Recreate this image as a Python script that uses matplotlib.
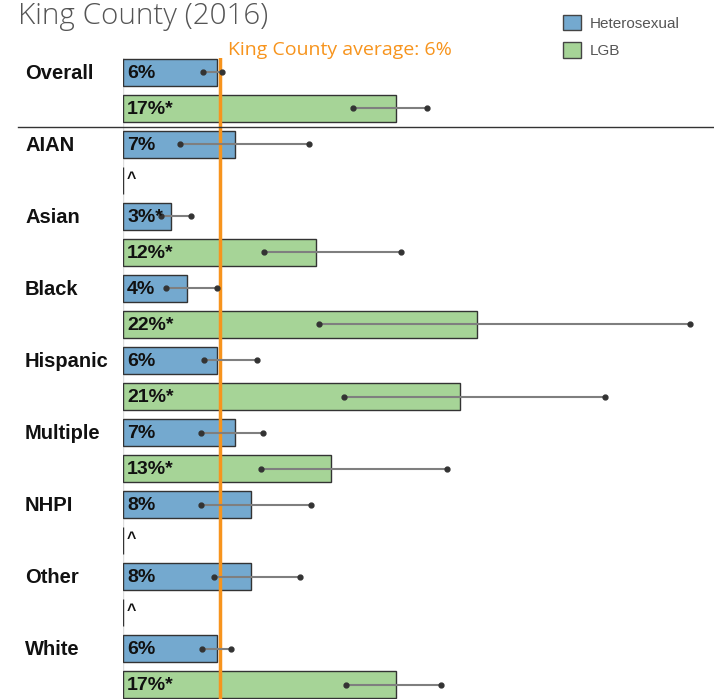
import numpy as np
import matplotlib
matplotlib.use("Agg")
import matplotlib.pyplot as plt
from matplotlib.patches import Patch
from matplotlib.lines import Line2D
from matplotlib.transforms import blended_transform_factory

# Data (percent)
groups = ["Overall", "AIAN", "Asian", "Black", "Hispanic", "Multiple", "NHPI", "Other", "White"]
het_val = [5.85, 6.95, 2.98, 3.98, 5.85, 6.95, 7.95, 7.95, 5.85]
het_lo = [4.97, 3.54, 2.36, 2.67, 5.03, 4.84, 4.84, 5.65, 4.9]
het_hi = [6.15, 11.55, 4.22, 5.84, 8.32, 8.7, 11.7, 11.0, 6.7]
het_lbl = ["6%", "7%", "3%*", "4%", "6%", "7%", "8%", "8%", "6%"]
lgb_val = [16.96, 0, 11.99, 22.0, 20.95, 12.9, 0, 0, 16.96]
lgb_lo = [14.3, None, 8.76, 12.2, 13.75, 8.6, None, None, 13.85]
lgb_hi = [18.9, None, 17.27, 35.2, 29.95, 20.1, None, None, 19.75]
lgb_lbl = ["17%*", "^", "12%*", "22%*", "21%*", "13%*", "^", "^", "17%*"]
county_avg = 6.0

W, H = 714, 699
fig = plt.figure(figsize=(W / 100, H / 100), dpi=100)
px = 16.1  # pixels per percentage point
ax = fig.add_axes([123 / W, 0, (W - 123) / W, (H - 58) / H])
ax.set_xlim(0, (W - 123) / px)
ax.set_ylim(17.4, -0.4)
ax.axis("off")
ax.axvline(0, color="#dddddd", lw=1, zorder=0)

blue = "#74a9cf"
green = "#a6d497"
err_kw = dict(color="#7f7f7f", lw=1.5, solid_capstyle="butt", zorder=4)
dot_kw = dict(ls="none", marker="o", ms=3.5, color="#333333", zorder=5)

lab_tr = blended_transform_factory(fig.transFigure, ax.transData)
for i, g in enumerate(groups):
    yh, yl = 2 * i, 2 * i + 1
    ax.barh(yh, het_val[i], height=0.74, color=blue, edgecolor="#333333", lw=1, zorder=2)
    ax.plot([het_lo[i], het_hi[i]], [yh, yh], **err_kw)
    ax.plot([het_lo[i], het_hi[i]], [yh, yh], **dot_kw)
    ax.text(0.25, yh + 0.03, het_lbl[i], va="center", ha="left", fontsize=14,
            fontweight="bold", family="Liberation Sans", color="#111111", zorder=6)

    ax.barh(yl, lgb_val[i], height=0.74, color=green, edgecolor="#333333", lw=1, zorder=2)
    if lgb_lo[i] is not None:
        ax.plot([lgb_lo[i], lgb_hi[i]], [yl, yl], **err_kw)
        ax.plot([lgb_lo[i], lgb_hi[i]], [yl, yl], **dot_kw)
    ax.text(0.25, yl + (-0.05 if lgb_lbl[i] == "^" else 0.03), lgb_lbl[i], va="center", ha="left",
            fontsize=14 if lgb_lbl[i] != "^" else 11.5, fontweight="bold",
            family="Liberation Sans", color="#111111", zorder=6)

    ax.text(25 / W, yh + 0.03, g, va="center", ha="left", fontsize=14.5, fontweight="bold",
            family="Liberation Sans", color="#111111", transform=lab_tr)

# county average line
ax.axvline(county_avg, color="#f7941d", lw=2.5, zorder=3)
fig.text(228 / W, 1 - 50 / H, f"King County average: {county_avg:.0f}%", color="#f7941d",
         fontsize=14, family="Open Sans", va="center", ha="left")

# separator between overall and groups
fig.add_artist(Line2D([18 / W, 1], [1 - 127 / H, 1 - 127 / H], color="#333333", lw=1))

fig.text(18 / W, 1 - 16 / H, "King County (2016)", fontsize=21.3, family="Open Sans",
         fontweight="light", color="#555555", va="center", ha="left")

handles = [Patch(facecolor=blue, edgecolor="#444444", label="Heterosexual"),
           Patch(facecolor=green, edgecolor="#444444", label="LGB")]
fig.legend(handles=handles, loc="upper left", bbox_to_anchor=(549 / W, 1 - 1 / H),
           frameon=False, handlelength=1.2, handleheight=1.2,
           labelspacing=0.75, handletextpad=0.55, labelcolor="#555555",
           prop={"family": "Liberation Sans", "size": 11})

fig.savefig("out.png", dpi=100)
